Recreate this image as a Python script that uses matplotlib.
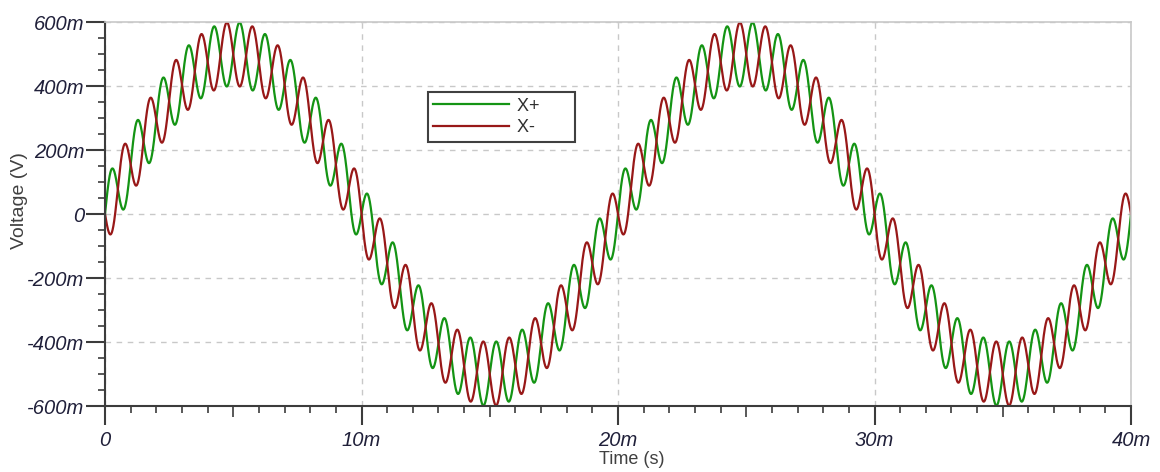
import numpy as np
import matplotlib.pyplot as plt
from matplotlib.ticker import FixedLocator, FuncFormatter

# signal parameters
t_end = 40e-3            # s
n_points = 8001
carrier_amp = 0.5        # V
carrier_freq = 50.0      # Hz
ripple_amp = 0.1         # V
ripple_freq = 1000.0     # Hz
series_names = ['X+', 'X-']
ripple_sign = [1, -1]
series_colors = ['#149414', '#981818']

x_major = [0, 10e-3, 20e-3, 30e-3, 40e-3]
y_major = [-0.6, -0.4, -0.2, 0, 0.2, 0.4, 0.6]

t = np.linspace(0, t_end, n_points)
base = carrier_amp * np.sin(2 * np.pi * carrier_freq * t)
ripple = ripple_amp * np.sin(2 * np.pi * ripple_freq * t)

fig = plt.figure(figsize=(11.6, 4.72), dpi=100)
ax = fig.add_axes([105 / 1160, 1 - 406 / 472, 1026 / 1160, 384 / 472])

for name, s, c in zip(series_names, ripple_sign, series_colors):
    # trailing spaces widen the legend box like in the original
    ax.plot(t, base + s * ripple, color=c, lw=1.6, label=name + ' ' * 6)

ax.set_xlim(0, t_end)
ax.set_ylim(-0.6, 0.6)


def eng(v, pos=None):
    v = int(round(v * 1000))
    return '0' if v == 0 else '%dm' % v


ax.xaxis.set_major_locator(FixedLocator(x_major))
ax.yaxis.set_major_locator(FixedLocator(y_major))
ax.xaxis.set_major_formatter(FuncFormatter(eng))
ax.yaxis.set_major_formatter(FuncFormatter(eng))

x_minor = [i * 1e-3 for i in range(41) if i % 10 != 0]
y_minor = [i * 0.05 for i in range(-12, 13) if i % 4 != 0]
ax.xaxis.set_minor_locator(FixedLocator(x_minor))
ax.yaxis.set_minor_locator(FixedLocator(y_minor))

tick_col = '#3c3c3c'
ax.tick_params(which='major', length=14, width=1.5, color=tick_col, direction='out')
ax.tick_params(which='minor', length=5, width=1.2, color=tick_col, direction='out')
ax.tick_params(axis='x', which='major', pad=4)
ax.tick_params(axis='y', which='major', pad=1)

# the 5 ms ticks are a bit longer
for tk, v in zip(ax.xaxis.get_minor_ticks(len(x_minor)), x_minor):
    if abs((v * 1e3) % 10 - 5) < 1e-6:
        tk.tick1line.set_markersize(8)

for lab in ax.get_xticklabels() + ax.get_yticklabels():
    lab.set_fontfamily('Liberation Sans')
    lab.set_fontstyle('italic')
    lab.set_fontsize(14.5)
    lab.set_color('#20203a')

ax.grid(True, which='major', ls=(0, (4, 4)), color='#c8c8c8', lw=1)

for side in ['left', 'bottom']:
    ax.spines[side].set_color(tick_col)
    ax.spines[side].set_linewidth(1.5)
for side in ['top', 'right']:
    ax.spines[side].set_color('#c8c8c8')
    ax.spines[side].set_linewidth(1.2)

ax.set_xlabel('Time (s)', fontfamily='Liberation Sans', fontsize=13,
              color='#404040')
ax.set_ylabel('Voltage (V)', fontfamily='Liberation Sans', fontsize=14,
              color='#404040')
ax.xaxis.set_label_coords((632 - 105) / 1026, -(460 - 406) / 384)
ax.yaxis.set_label_coords(-(105 - 20) / 1026, (406 - 201) / 384)
ax.xaxis.label.set_va('center')
ax.yaxis.label.set_va('center')

leg = ax.legend(loc='upper left', bbox_to_anchor=(0.3145, 0.817),
                frameon=True, fancybox=False, framealpha=1,
                edgecolor='#404040', prop={'family': 'Liberation Sans', 'size': 13},
                handlelength=4.2, handletextpad=0.45, borderpad=0.3,
                labelspacing=0.25, borderaxespad=0)
leg.get_frame().set_linewidth(1.5)
for txt in leg.get_texts():
    txt.set_color('#303030')

fig.savefig('out.png', dpi=100)
